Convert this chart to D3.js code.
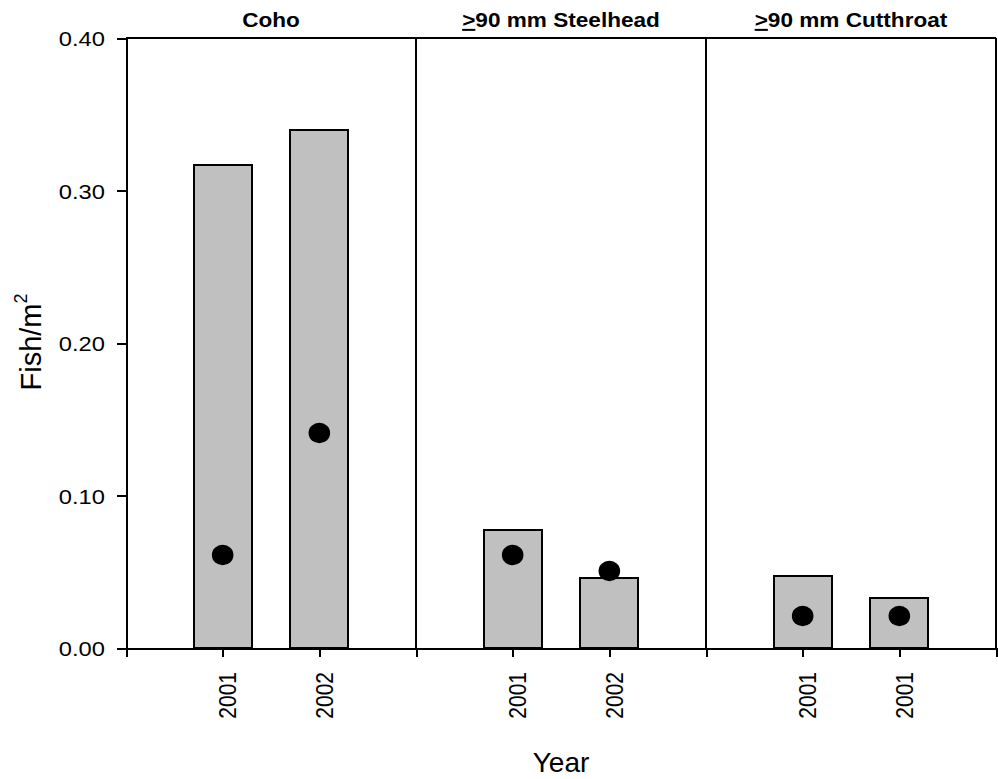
<!DOCTYPE html>
<html>
<head>
<meta charset="utf-8">
<script src="https://cdn.jsdelivr.net/npm/d3@7"></script>
<style>
  html, body { margin: 0; padding: 0; background: #fff; }
  svg { display: block; font-family: Arial, "Liberation Sans", sans-serif; }
  line, path.domain, rect { shape-rendering: crispEdges; }
</style>
</head>
<body>
<svg id="chart" width="998" height="779"></svg>
<script>
// ---- data ----
const panelPrefixes = ["", ">", ">"];
const panelTitles = ["Coho", "90 mm Steelhead", "90 mm Cutthroat"];
const categories = ["2001", "2002", "2001", "2002", "2001", "2001"];
const panelOf = [0, 0, 1, 1, 2, 2];
const slotOf = [1, 2, 1, 2, 1, 2];
const barValues = [0.3165, 0.340, 0.0775, 0.046, 0.0475, 0.033];
const dotValues = [0.061, 0.141, 0.061, 0.0505, 0.021, 0.021];
const yTicks = [0.0, 0.1, 0.2, 0.3, 0.4];
const yLabel = "Fish/m";
const yLabelSup = "2";
const xLabel = "Year";

// ---- layout ----
const svg = d3.select("#chart");
const plotLeft = 126, plotRight = 996, plotTop = 38, plotBottom = 648;
const slotsPerPanel = 3;
const nPanels = panelTitles.length;
const sx = 1.13; // horizontal text stretch

const x = d3.scaleLinear().domain([0, nPanels * slotsPerPanel]).range([plotLeft, plotRight]);
const y = d3.scaleLinear().domain([0, 0.4]).range([plotBottom, plotTop]);
const pos = categories.map((c, i) => panelOf[i] * slotsPerPanel + slotOf[i]);
const barW = x(0.6) - x(0);

// bars
svg.append("g").selectAll("rect").data(barValues).join("rect")
  .attr("x", (d, i) => x(pos[i]) - barW / 2)
  .attr("y", d => y(d))
  .attr("width", barW)
  .attr("height", d => y(0) - y(d))
  .attr("fill", "#c0c0c0")
  .attr("stroke", "#000")
  .attr("stroke-width", 2);

// dots
svg.append("g").selectAll("ellipse").data(dotValues).join("ellipse")
  .attr("cx", (d, i) => x(pos[i]))
  .attr("cy", d => y(d))
  .attr("rx", 10.8)
  .attr("ry", 10.2)
  .attr("fill", "#000");

// frame: top, panel dividers, right
svg.append("line").attr("x1", plotLeft).attr("x2", plotRight).attr("y1", plotTop).attr("y2", plotTop)
  .attr("stroke", "#000").attr("stroke-width", 2);
const dividers = d3.range(1, nPanels + 1).map(p => p * slotsPerPanel);
svg.append("g").selectAll("line").data(dividers).join("line")
  .attr("x1", d => x(d)).attr("x2", d => x(d))
  .attr("y1", plotTop).attr("y2", plotBottom)
  .attr("stroke", "#000").attr("stroke-width", 2);

// y axis
const yAxis = svg.append("g").attr("transform", `translate(${plotLeft},0)`)
  .call(d3.axisLeft(y).tickValues(yTicks).tickFormat(d3.format(".2f")).tickSize(9).tickSizeOuter(0));
yAxis.select(".domain").attr("stroke-width", 2).attr("stroke", "#000");
yAxis.selectAll(".tick line").attr("stroke-width", 2).attr("stroke", "#000");
yAxis.selectAll(".tick text")
  .attr("x", null).attr("dy", null)
  .attr("font-size", 21).attr("font-family", "Arial, 'Liberation Sans', sans-serif")
  .attr("fill", "#000")
  .attr("text-anchor", "end")
  .attr("transform", `translate(-21,7.5) scale(${sx},1)`);

// x axis
const labelMap = new Map(pos.map((p, i) => [p, categories[i]]));
const xAxis = svg.append("g").attr("transform", `translate(0,${plotBottom})`)
  .call(d3.axisBottom(x).tickValues(d3.range(0, nPanels * slotsPerPanel + 1))
    .tickFormat(d => labelMap.get(d) || "").tickSize(9).tickSizeOuter(0));
xAxis.select(".domain").attr("stroke-width", 2).attr("stroke", "#000");
xAxis.selectAll(".tick line").attr("stroke-width", 2).attr("stroke", "#000");
xAxis.selectAll(".tick text")
  .attr("x", null).attr("y", null).attr("dy", null)
  .attr("font-size", 21).attr("font-family", "Arial, 'Liberation Sans', sans-serif")
  .attr("fill", "#000")
  .attr("text-anchor", "end")
  .attr("transform", `translate(13,24) scale(${sx},1) rotate(-90)`);

// panel titles
const titles = svg.append("g").selectAll("text").data(panelTitles).join("text")
  .attr("transform", (d, i) => `translate(${(x(i * slotsPerPanel) + x((i + 1) * slotsPerPanel)) / 2},27) scale(${sx},1)`)
  .attr("text-anchor", "middle")
  .attr("font-size", 20)
  .attr("font-weight", "bold")
  .attr("fill", "#000");
titles.append("tspan").attr("text-decoration", "underline")
  .text((d, i) => panelPrefixes[i]);
titles.append("tspan").text(d => d);

// axis titles
svg.append("text")
  .attr("transform", `translate(${(plotLeft + plotRight) / 2},772)`)
  .attr("text-anchor", "middle")
  .attr("font-size", 28)
  .attr("fill", "#000")
  .text(xLabel);

const yt = svg.append("text")
  .attr("transform", `translate(41,${(plotTop + plotBottom) / 2 - 1}) rotate(-90)`)
  .attr("text-anchor", "middle")
  .attr("font-size", 29)
  .attr("fill", "#000");
yt.append("tspan").text(yLabel);
yt.append("tspan").attr("font-size", 18).attr("dy", -14).text(yLabelSup);
</script>
</body>
</html>
